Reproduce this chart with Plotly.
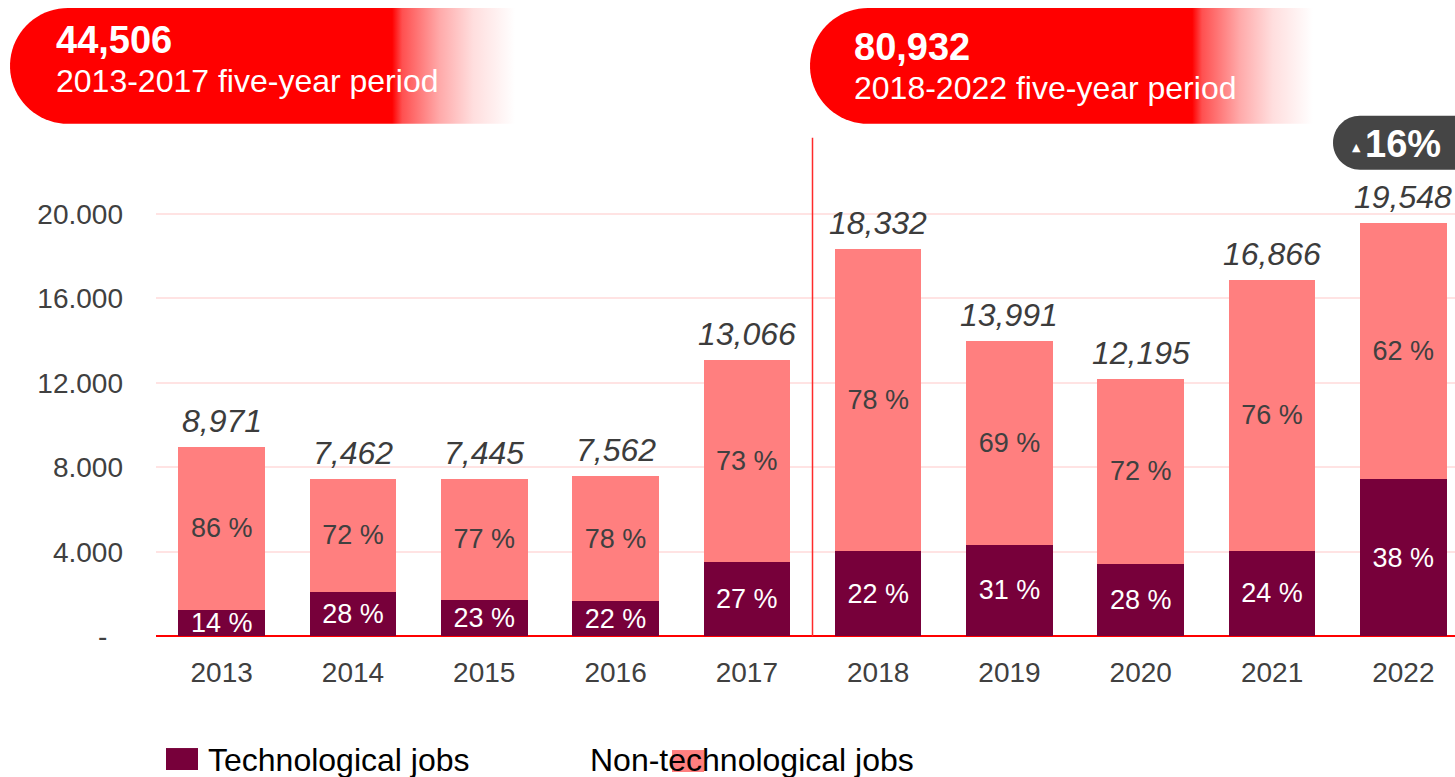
import numpy as np
import plotly.graph_objects as go

# ---------------- data ----------------
years = ["2013", "2014", "2015", "2016", "2017", "2018", "2019", "2020", "2021", "2022"]
totals = [8971, 7462, 7445, 7562, 13066, 18332, 13991, 12195, 16866, 19548]
tech_jobs = [1256, 2089, 1712, 1664, 3528, 4033, 4337, 3415, 4048, 7428]
nontech_jobs = [7715, 5373, 5733, 5898, 9538, 14299, 9654, 8780, 12818, 12120]
tech_pct = [14, 28, 23, 22, 27, 22, 31, 28, 24, 38]
nontech_pct = [86, 72, 77, 78, 73, 78, 69, 72, 76, 62]

period_totals = ["44,506", "80,932"]
period_labels = ["2013-2017 five-year period", "2018-2022 five-year period"]
growth_label = "16%"

y_tickvals = [0, 4000, 8000, 12000, 16000, 20000]
y_ticktext = ["-\u00a0\u00a0", "4.000", "8.000", "12.000", "16.000", "20.000"]

series_names = ["Technological jobs", "Non-technological jobs"]

# ---------------- style ----------------
FONT = "Liberation Sans"
TECH = "#77003a"
NONTECH = "#ff7f7f"
RED = "#ff0000"
GREY = "#404040"
W, H = 1455, 777          # design space (pixels)
FIG_H = 792               # rendered height (photo is squeezed back to 777)
PLOT_L, PLOT_T, PLOT_B = 156, 138, 637

fig = go.Figure()

fig.add_trace(go.Bar(
    x=years, y=tech_jobs, name=series_names[0], marker=dict(color=TECH, line=dict(width=0)),
    text=[f"{p} %" for p in tech_pct], textposition="inside", insidetextanchor="middle",
    textangle=0, constraintext="none",
    textfont=dict(family=FONT, size=27, color="white"), hoverinfo="x+y", showlegend=False,
))
fig.add_trace(go.Bar(
    x=years, y=nontech_jobs, name=series_names[1], marker=dict(color=NONTECH, line=dict(width=0)),
    text=[f"{p} %" for p in nontech_pct], textposition="inside", insidetextanchor="middle",
    textangle=0, constraintext="none",
    textfont=dict(family=FONT, size=27, color=GREY), hoverinfo="x+y", showlegend=False,
))

# total labels above bars (category index positions)
for i, t in enumerate(totals):
    fig.add_annotation(x=i, y=t, xref="x", yref="y", text=f"<i>{t:,}</i>", showarrow=False,
                       yanchor="bottom", yshift=6,
                       font=dict(family=FONT, size=32, color="#3c3c3c"))

# ---------- decorative overlay on pixel axes (x2/y2) ----------
def pill(x_left, x_right, y_top, y_bot):
    r = (y_bot - y_top) / 2
    cy = (y_top + y_bot) / 2
    th = np.linspace(np.pi / 2, 3 * np.pi / 2, 40)
    xs = [x_left + r, x_right, x_right] + list(x_left + r + r * np.cos(th))
    ys = [y_top, y_top, y_bot] + list(cy + r * np.sin(th))
    return xs, ys

pills = [
    dict(x0=10, x1=540, stops=[[0, "rgb(255,0,0)"], [0.721, "rgb(255,0,0)"], [0.740, "rgb(255,80,80)"],
                               [0.811, "rgb(255,170,170)"], [0.874, "rgb(255,222,222)"],
                               [0.953, "rgb(255,255,255)"], [1, "rgb(255,255,255)"]],
         tx=54),
    dict(x0=810, x1=1330, stops=[[0, "rgb(255,0,0)"], [0.735, "rgb(255,0,0)"], [0.754, "rgb(255,80,80)"],
                                 [0.827, "rgb(255,170,170)"], [0.890, "rgb(255,222,222)"],
                                 [0.967, "rgb(255,255,255)"], [1, "rgb(255,255,255)"]],
         tx=852),
]
for i, p in enumerate(pills):
    xs, ys = pill(p["x0"], p["x1"], 8, 124)
    fig.add_trace(go.Scatter(
        x=xs, y=ys, xaxis="x2", yaxis="y2", mode="none", fill="toself",
        fillgradient=dict(type="horizontal", colorscale=p["stops"], start=p["x0"], stop=p["x1"]),
        hoverinfo="skip", showlegend=False,
    ))
    dy = 0 if i == 0 else 7
    fig.add_annotation(x=p["tx"], y=40 + dy, xref="x2", yref="y2", text=f"<b>{period_totals[i]}</b>",
                       showarrow=False, xanchor="left", yanchor="middle",
                       font=dict(family=FONT, size=38, color="white"))
    fig.add_annotation(x=p["tx"], y=81 + dy, xref="x2", yref="y2", text=period_labels[i],
                       showarrow=False, xanchor="left", yanchor="middle",
                       font=dict(family=FONT, size=32, color="white"))

# growth badge
bx0, bx1, by0, by1, br = 1333, 1480, 116, 170, 27
k = 0.5523 * br
badge_path = (f"M {bx0+br},{by0} L {bx1},{by0} L {bx1},{by1} L {bx0+br},{by1} "
              f"C {bx0+br-k},{by1} {bx0},{by1-br+k} {bx0},{by1-br} "
              f"C {bx0},{by0+br-k} {bx0+br-k},{by0} {bx0+br},{by0} Z")
fig.add_shape(type="path", path=badge_path, xref="x2", yref="y2",
              fillcolor="#454545", line=dict(width=0), layer="above")
fig.add_annotation(x=1356, y=148, xref="x2", yref="y2", text="▲", showarrow=False,
                   font=dict(family="DejaVu Sans", size=11, color="white"))
fig.add_annotation(x=1363, y=144, xref="x2", yref="y2", text=f"<b>{growth_label}</b>", showarrow=False,
                   xanchor="left", yanchor="middle", font=dict(family=FONT, size=38, color="white"))

# period divider
fig.add_shape(type="line", xref="x", yref="y domain", x0=4.5, x1=4.5, y0=0, y1=1,
              line=dict(color="#ff2a2a", width=1.5))

# manual legend
fig.add_shape(type="rect", xref="x2", yref="y2", x0=166, x1=198, y0=749, y1=771,
              fillcolor=TECH, line=dict(width=0))
fig.add_shape(type="rect", xref="x2", yref="y2", x0=672, x1=704, y0=751, y1=773,
              fillcolor=NONTECH, line=dict(width=0), layer="below")
fig.add_annotation(x=206, y=761, xref="x2", yref="y2", text=series_names[0], showarrow=False,
                   xanchor="left", yanchor="middle", font=dict(family=FONT, size=32, color="black"))
fig.add_annotation(x=588, y=761, xref="x2", yref="y2", text=series_names[1], showarrow=False,
                   xanchor="left", yanchor="middle", font=dict(family=FONT, size=32, color="black"))

ypx = (PLOT_B - 214) / 20000.0
fig.update_layout(
    width=W, height=FIG_H, autosize=False,
    margin=dict(l=0, r=0, t=0, b=0, pad=0),
    paper_bgcolor="white", plot_bgcolor="rgba(0,0,0,0)",
    barmode="stack", bargap=0.34,
    font=dict(family=FONT, color=GREY),
    xaxis=dict(domain=[PLOT_L / W, 1], range=[-0.5, -0.5 + (W - PLOT_L) / 131.3],
               type="category", showgrid=False, showline=False, zeroline=False, ticks="",
               tickfont=dict(family=FONT, size=28, color=GREY), ticklabelstandoff=17),
    yaxis=dict(domain=[1 - PLOT_B / H, 1 - PLOT_T / H], range=[0, (PLOT_B - PLOT_T) / ypx],
               tickvals=y_tickvals, ticktext=y_ticktext, showgrid=True, gridcolor="#ffe3e3", gridwidth=2,
               zeroline=True, zerolinecolor=RED, zerolinewidth=2, showline=False, ticks="",
               tickfont=dict(family=FONT, size=28, color=GREY), ticklabelstandoff=32),
    xaxis2=dict(domain=[0, 1], range=[0, W], visible=False, anchor="y2", fixedrange=True),
    yaxis2=dict(domain=[0, 1], range=[H, 0], visible=False, anchor="x2", fixedrange=True),
)

fig.write_html(
    "out.html",
    config={"displayModeBar": False},
    post_script=("document.body.style.margin='0';document.body.style.overflow='hidden';"
                 "document.documentElement.style.overflow='hidden';"),
)
